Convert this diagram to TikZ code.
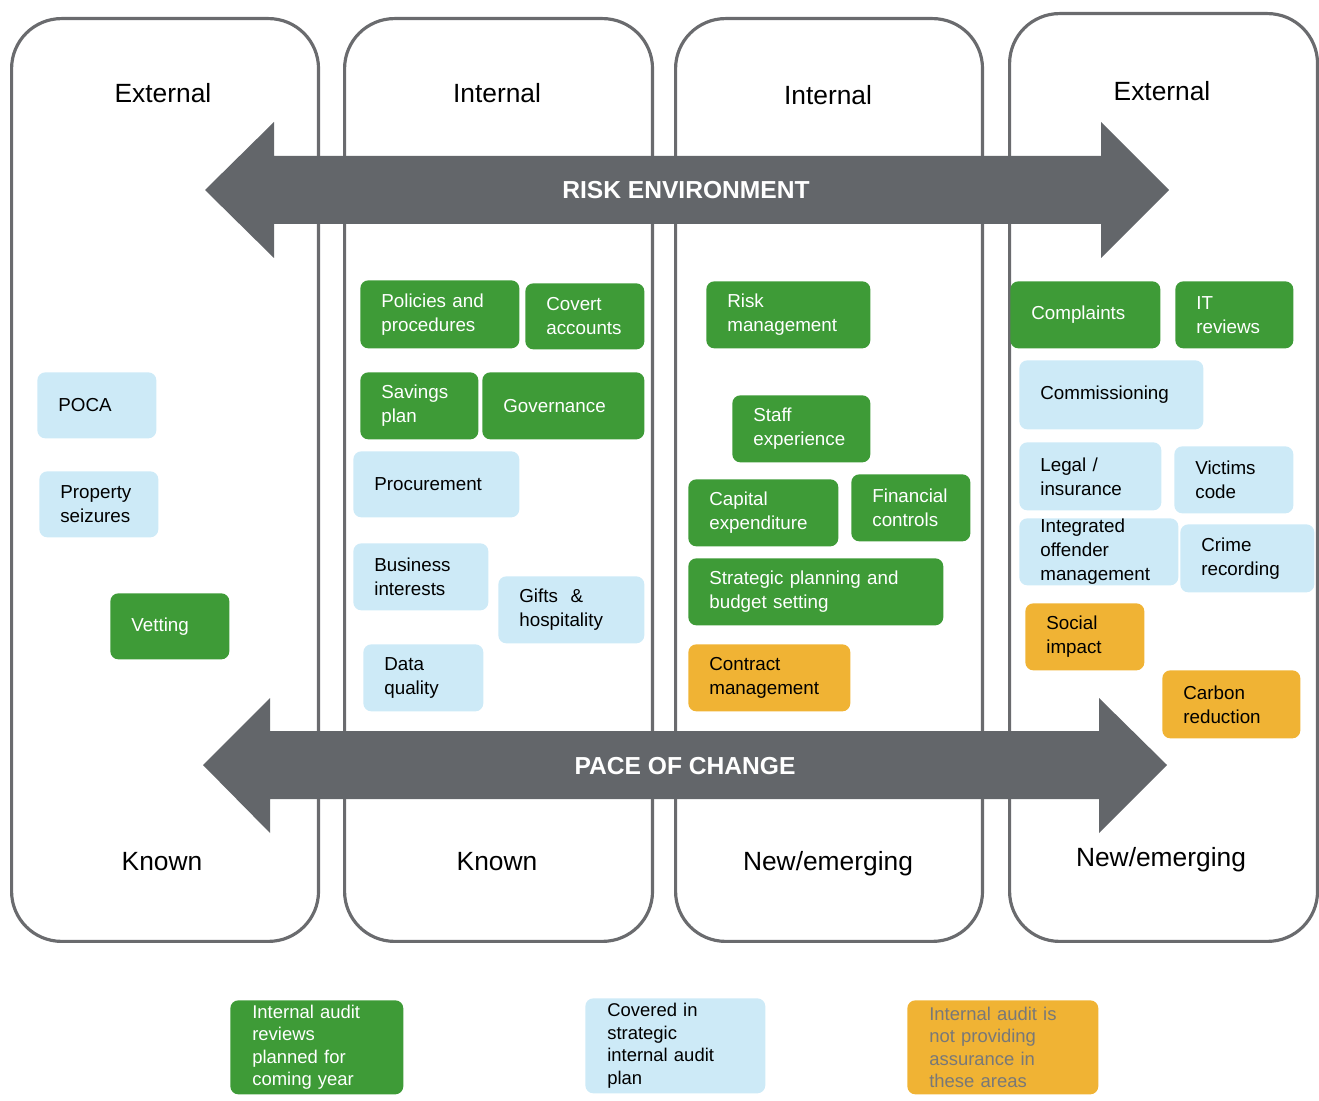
\documentclass[tikz,border=0pt]{standalone}
\usepackage{fontspec}
\setmainfont{Liberation Sans}
\definecolor{auditgreen}{RGB}{62,155,55}
\definecolor{auditblue}{RGB}{205,234,247}
\definecolor{auditamber}{RGB}{240,179,52}
\definecolor{arrowgrey}{RGB}{99,102,106}
\definecolor{framegrey}{RGB}{106,107,110}
\definecolor{notegrey}{RGB}{120,120,120}
\begin{document}
\begin{tikzpicture}[x=0.02cm,y=-0.02cm]
\tikzstyle{column}=[rectangle,rounded corners=1cm,draw=framegrey,line width=1.8pt,anchor=north west,inner sep=0pt]
\tikzstyle{heading}=[font=\fontsize{15}{18}\selectfont]
\tikzstyle{card}=[rectangle,rounded corners=0.16cm,anchor=north west,inner xsep=0.42cm,inner ysep=0pt,align=left,font=\fontsize{10.7}{13.6}\selectfont]
\tikzstyle{planned}=[card,fill=auditgreen,text=white]
\tikzstyle{covered}=[card,fill=auditblue,text=black]
\tikzstyle{uncovered}=[card,fill=auditamber,text=black]
\tikzstyle{key}=[font=\fontsize{10.5}{12.8}\selectfont,inner xsep=0.44cm]
\tikzstyle{bigarrow}=[fill=arrowgrey]
\tikzstyle{arrowtext}=[text=white,font=\fontsize{14}{17}\selectfont\bfseries]

\useasboundingbox (0,0) rectangle (1319,1101);

% columns
\node [column,minimum width=6.14cm,minimum height=18.46cm] at (10,17) (extKnown) {};
\node [column,minimum width=6.16cm,minimum height=18.46cm] at (343,17) (intKnown) {};
\node [column,minimum width=6.14cm,minimum height=18.46cm] at (674,17) (intNew) {};
\node [column,minimum width=6.16cm,minimum height=18.56cm] at (1008,12) (extNew) {};

\node [heading] at (163,93) (extKnownTop) {External};
\node [heading] at (497,93) (intKnownTop) {Internal};
\node [heading] at (828,95) (intNewTop) {Internal};
\node [heading] at (1162,91) (extNewTop) {External};
\node [heading] at (162,862) (extKnownBottom) {Known};
\node [heading] at (497,862) (intKnownBottom) {Known};
\node [heading] at (828,864) (intNewBottom) {New/emerging};
\node [heading] at (1161,860) (extNewBottom) {New/emerging};

% double arrows
\fill [bigarrow] (205,190) -- (274,122) -- (274,156) -- (1101,156) -- (1101,122) -- (1169,190)
  -- (1101,258) -- (1101,224) -- (274,224) -- (274,258) -- cycle;
\node [arrowtext] at (686,190) (riskLabel) {RISK ENVIRONMENT};
\fill [bigarrow] (203,765) -- (270,698) -- (270,731) -- (1099,731) -- (1099,698) -- (1167,765)
  -- (1099,833) -- (1099,799) -- (270,799) -- (270,833) -- cycle;
\node [arrowtext] at (685,766) (paceLabel) {PACE OF CHANGE};

% external, known
\node [covered,text width=1.54cm,minimum height=1.32cm] at (37,372) (poca) {POCA};
\node [covered,text width=1.54cm,minimum height=1.32cm] at (39,471) (seizures) {Property\\seizures};
\node [planned,text width=1.54cm,minimum height=1.32cm] at (110,593) (vetting) {Vetting};

% internal, known
\node [planned,text width=2.34cm,minimum height=1.36cm] at (360,280) (policies) {Policies and\\procedures};
\node [planned,text width=1.54cm,minimum height=1.32cm] at (525,283) (covert) {Covert\\accounts};
\node [planned,text width=1.52cm,minimum height=1.34cm] at (360,372) (savings) {Savings\\plan};
\node [planned,text width=2.40cm,minimum height=1.34cm] at (482,372) (governance) {Governance};
\node [covered,text width=2.48cm,minimum height=1.32cm] at (353,451) (procurement) {Procurement};
\node [covered,text width=1.86cm,minimum height=1.34cm] at (353,543) (business) {Business\\interests};
\node [covered,text width=2.08cm,minimum height=1.34cm] at (498,576) (gifts) {Gifts~~\&\\hospitality};
\node [covered,text width=1.56cm,minimum height=1.34cm] at (363,644) (dataQuality) {Data\\quality};

% internal, new/emerging
\node [planned,text width=2.44cm,minimum height=1.34cm] at (706,281) (riskMgmt) {Risk\\management};
\node [planned,text width=1.92cm,minimum height=1.34cm] at (732,395) (staff) {Staff\\experience};
\node [planned,text width=2.16cm,minimum height=1.34cm] at (688,479) (capital) {Capital\\expenditure};
\node [planned,text width=1.54cm,minimum height=1.34cm] at (851,474) (financial) {Financial\\controls};
\node [planned,text width=4.26cm,minimum height=1.34cm] at (688,558) (strategic) {Strategic planning and\\budget setting};
\node [uncovered,text width=2.40cm,minimum height=1.34cm] at (688,644) (contract) {Contract\\management};

% external, new/emerging
\node [planned,text width=2.16cm,minimum height=1.34cm] at (1010,281) (complaints) {Complaints};
\node [planned,text width=1.52cm,minimum height=1.34cm] at (1175,281) (itReviews) {IT\\reviews};
\node [covered,text width=2.84cm,minimum height=1.38cm] at (1019,360) (commissioning) {Commissioning};
\node [covered,text width=2.00cm,minimum height=1.36cm] at (1019,442) (legal) {Legal /\\insurance};
\node [covered,text width=1.54cm,minimum height=1.34cm] at (1174,446) (victims) {Victims\\code};
\node [covered,text width=2.34cm,minimum height=1.34cm] at (1019,518) (offender) {Integrated\\offender\\management};
\node [covered,text width=1.84cm,minimum height=1.36cm] at (1180,524) (crime) {Crime\\recording};
\node [uncovered,text width=1.54cm,minimum height=1.34cm] at (1025,603) (social) {Social\\impact};
\node [uncovered,text width=1.92cm,minimum height=1.36cm] at (1162,670) (carbon) {Carbon\\reduction};

% key
\node [planned,key,text width=2.58cm,minimum height=1.88cm] at (230,1000) (keyPlanned) {Internal audit\\reviews\\planned for\\coming year};
\node [covered,key,text width=2.72cm,minimum height=1.90cm] at (585,998) (keyCovered) {Covered in\\strategic\\internal audit\\plan};
\node [uncovered,key,text=notegrey,text width=2.94cm,minimum height=1.88cm] at (907,1000) (keyUncovered) {Internal audit is\\not providing\\assurance in\\these areas};
\end{tikzpicture}
\end{document}
